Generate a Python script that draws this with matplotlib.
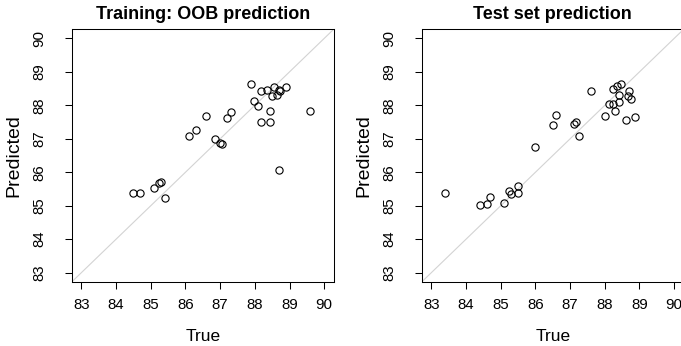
import numpy as np
import matplotlib.pyplot as plt

plt.rcParams['font.family'] = ['Liberation Sans', 'DejaVu Sans']

# out-of-bag predictions on the training set
train_true = [84.50, 84.70, 85.09, 85.23, 85.30, 85.40, 86.10, 86.30, 86.60, 86.84,
              87.01, 87.05, 87.20, 87.30, 87.90, 87.99, 88.10, 88.19, 88.18, 88.35,
              88.45, 88.45, 88.49, 88.54, 88.64, 88.71, 88.73, 88.70, 88.89, 89.58]
train_pred = [85.37, 85.39, 85.54, 85.67, 85.70, 85.24, 87.07, 87.27, 87.68, 86.99,
              86.88, 86.83, 87.62, 87.80, 88.63, 88.13, 87.98, 87.50, 88.42, 88.46,
              87.49, 87.83, 88.28, 88.56, 88.30, 88.46, 88.42, 86.08, 88.56, 87.82]

# predictions on the held-out test set
test_true = [83.40, 84.39, 84.60, 84.70, 85.10, 85.25, 85.30, 85.50, 85.50, 86.00,
             86.50, 86.60, 87.10, 87.17, 87.26, 87.61, 88.01, 88.11, 88.25, 88.25,
             88.30, 88.35, 88.41, 88.41, 88.46, 88.62, 88.67, 88.69, 88.77, 88.86]
test_pred = [85.39, 85.02, 85.04, 85.27, 85.09, 85.44, 85.34, 85.59, 85.38, 86.76,
             87.42, 87.72, 87.43, 87.50, 87.08, 88.42, 87.69, 88.05, 88.03, 88.50,
             87.83, 88.57, 88.10, 88.30, 88.65, 87.56, 88.28, 88.42, 88.19, 87.65]

titles = ["Training: OOB prediction", "Test set prediction"]
ticks = list(range(83, 91))
lims = (82.72, 90.28)

fig = plt.figure(figsize=(6.81, 3.46), dpi=100)
ax1 = fig.add_axes([0.1053, 0.185, 0.385, 0.731])
ax2 = fig.add_axes([0.6192, 0.185, 0.385, 0.731])

for ax, x, y, title in [(ax1, train_true, train_pred, titles[0]),
                        (ax2, test_true, test_pred, titles[1])]:
    # 1:1 reference line
    ax.plot(lims, lims, color='#d3d3d3', lw=0.8, zorder=1)
    ax.plot(x, y, 'o', mfc='none', mec='black', ms=5.2, mew=0.8, zorder=2)
    ax.set_xlim(lims)
    ax.set_ylim(lims)
    ax.set_xticks(ticks)
    ax.set_yticks(ticks)
    ax.set_yticklabels([str(t) for t in ticks], rotation=90, va='center')
    ax.tick_params(direction='out', length=5, width=0.75, labelsize=10.8)
    ax.tick_params(axis='x', pad=6.5)
    ax.tick_params(axis='y', pad=13.5)
    for s in ax.spines.values():
        s.set_linewidth(0.75)
    ax.set_xlabel("True", fontsize=12.5, labelpad=12)
    ax.set_ylabel("Predicted", fontsize=14, labelpad=7)
    ax.set_title(title, fontsize=13, fontweight='bold', pad=7.5)

fig.savefig("out.png", dpi=100)
